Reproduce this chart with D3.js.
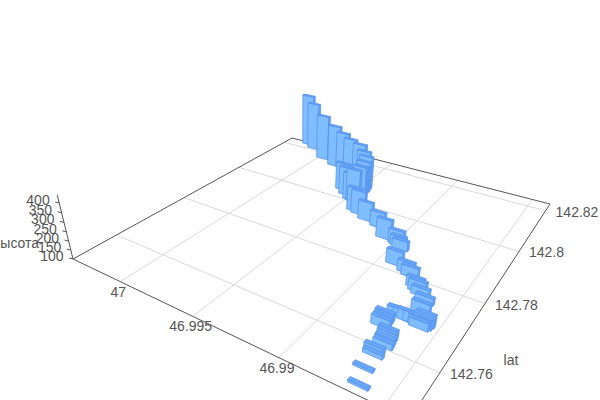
<!DOCTYPE html><html><head><meta charset="utf-8"></head><body style="margin:0;background:#fff;overflow:hidden">
<svg id="c" width="600" height="400" style="display:block"></svg>
<script src="https://cdn.jsdelivr.net/npm/d3@7"></script>
<script>
const lats=[47.00200,47.00124,46.99965,46.99832,46.99757,46.99673,46.99581,46.99519,46.99479,46.99468,46.99472,46.99447,46.99586,46.99532,46.99474,46.99444,46.99379,46.99339,46.99267,46.99166,46.99078,46.98991,46.98972,46.98948,46.98908,46.98825,46.98792,46.98729,46.98706,46.98679,46.98639,46.98628,46.98569,46.98574,46.98707,46.98676,46.98651,46.98621,46.98593,46.98583,46.98744,46.98741,46.98735,46.98682,46.98673,46.98668,46.98663,46.98683,46.98672,46.98668,46.98637];
const lons=[142.82288,142.82127,142.81695,142.81478,142.81435,142.81276,142.81151,142.80962,142.80799,142.80633,142.80561,142.80312,142.80414,142.80231,142.80065,142.80019,142.79660,142.79590,142.79441,142.79320,142.78991,142.78919,142.78872,142.78793,142.78244,142.78117,142.78040,142.77775,142.77685,142.77605,142.77458,142.77214,142.76909,142.76834,142.76862,142.76871,142.76837,142.76845,142.76821,142.76783,142.76678,142.76589,142.76479,142.76364,142.76268,142.76164,142.76062,142.75901,142.75792,142.75456,142.75109];
const heights=[433,403,382,357,330,321,318,304,296,282,257,286,264,268,261,296,239,238,208,189,210,180,158,152,178,161,155,154,159,143,137,147,162,152,142,142,152,152,152,141,142,136,147,131,136,131,130,125,120,110,110];
const latTicks=[47,46.995,46.99,46.985];
const latTickLabels=["47","46.995","46.99",""];
const lonTicks=[142.76,142.78,142.8,142.82];
const lonTickLabels=["142.76","142.78","142.8","142.82"];
const heightTicks=[100,150,200,250,300,350,400];

const latDomain=[47.00375,46.9839],lonDomain=[142.7492,142.8238],hDomain=[100,440];
const barLat=0.00095,barLon=0.00080;
const u=d3.scaleLinear().domain(latDomain).range([0,1]);
const v=d3.scaleLinear().domain(lonDomain).range([0,1]);
const t=d3.scaleLinear().domain(hDomain).range([0,-0.065]);

const B=[73,259],D=[409,420],C=[550,204],A=[292,138],VP=[300,1180];
const dx1=D[0]-C[0],dx2=A[0]-C[0],dx3=B[0]-D[0]+C[0]-A[0],dy1=D[1]-C[1],dy2=A[1]-C[1],dy3=B[1]-D[1]+C[1]-A[1];
const den=dx1*dy2-dx2*dy1,g=(dx3*dy2-dx2*dy3)/den,h=(dx1*dy3-dx3*dy1)/den;
const a=D[0]-B[0]+g*D[0],b=A[0]-B[0]+h*A[0],c=B[0],d=D[1]-B[1]+g*D[1],e=A[1]-B[1]+h*A[1],f=B[1];
function P(lat,lon,z){
  const U=u(lat),W=v(lon),T=t(z),w=g*U+h*W+1+T;
  return [(a*U+b*W+c+T*VP[0])/w,(d*U+e*W+f+T*VP[1])/w];
}
const svg=d3.select("#c");
const gridColor="#d9d9d9",axisColor="#555",labelColor="#555",font="'Liberation Sans',Arial,sans-serif";
const line=(p,q,col,w)=>svg.append("line").attr("x1",p[0]).attr("y1",p[1]).attr("x2",q[0]).attr("y2",q[1]).attr("stroke",col).attr("stroke-width",w);
const label=(x,y,s,anchor)=>svg.append("text").attr("x",x).attr("y",y).attr("text-anchor",anchor||"middle").attr("dominant-baseline","central").attr("font-family",font).attr("font-size",14).attr("fill",labelColor).text(s);

latTicks.forEach(l=>line(P(l,lonDomain[0],100),P(l,lonDomain[1],100),gridColor,1));
lonTicks.forEach(l=>line(P(latDomain[0],l,100),P(latDomain[1],l,100),gridColor,1));
const cB=P(latDomain[0],lonDomain[0],100),cD=P(latDomain[1],lonDomain[0],100),cC=P(latDomain[1],lonDomain[1],100),cA=P(latDomain[0],lonDomain[1],100),cTop=P(latDomain[0],lonDomain[0],440);
[[cB,cD],[cD,cC],[cC,cA],[cA,cB],[cB,cTop]].forEach(([p,q])=>line(p,q,axisColor,1));
heightTicks.forEach(z=>{
  const p=P(latDomain[0],lonDomain[0],z);
  line(p,[p[0]-4,p[1]-1],axisColor,1);
  label(p[0]-9.5,p[1]-3,String(z),"end");
});
latTicks.forEach((l,i)=>{ if(!latTickLabels[i])return; const p=P(l,lonDomain[0],100); label(p[0]-2,p[1]+10,latTickLabels[i]); });
lonTicks.forEach((l,i)=>{ const p=P(latDomain[1],l,100); label(p[0]+10,p[1]+1,lonTickLabels[i],"start"); });
label(511,360,"lat");
label(16,243,"высота");

const bars=d3.range(lats.length).map(i=>({lat:lats[i],lon:lons[i],z:heights[i]}));
const depth=q=>g*u(q.lat)+h*v(q.lon);
bars.sort((p,q)=>d3.descending(depth(p),depth(q)));
const poly=(pts,fill)=>svg.append("polygon").attr("points",pts.map(p=>p.map(n=>n.toFixed(2)).join(",")).join(" ")).attr("fill",fill).attr("stroke","#5593ef").attr("stroke-width",0.8).attr("stroke-linejoin","round");
bars.forEach(q=>{
  const l0=q.lat+barLat/2,l1=q.lat-barLat/2,m0=q.lon-barLon/2,m1=q.lon+barLon/2;
  poly([P(l0,m0,100),P(l1,m0,100),P(l1,m0,q.z),P(l0,m0,q.z)],"#7fbdff");
  poly([P(l1,m0,100),P(l1,m1,100),P(l1,m1,q.z),P(l1,m0,q.z)],"#68a6f8");
  poly([P(l0,m0,q.z),P(l1,m0,q.z),P(l1,m1,q.z),P(l0,m1,q.z)],"#6aa6f6");
});
</script></body></html>
